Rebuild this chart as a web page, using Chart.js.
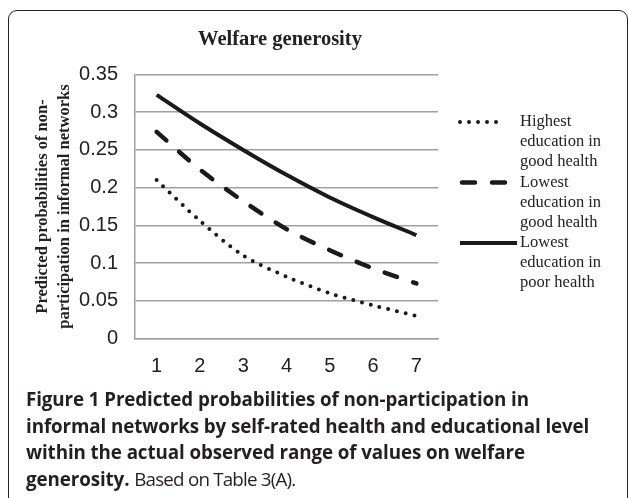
<!DOCTYPE html>
<html>
<head>
<meta charset="utf-8">
<script src="https://cdn.jsdelivr.net/npm/chart.js@4.4.1/dist/chart.umd.min.js"></script>
<style>
  html, body { margin: 0; padding: 0; background: #fff; }
  body { width: 629px; height: 498px; overflow: hidden; position: relative; }
  .frame {
    position: absolute; left: 8px; top: 10px; width: 620px; height: 600px;
    box-sizing: border-box; border: 1.5px solid #222; border-radius: 9px;
  }
  .chart-box { position: absolute; left: 0; top: 0; width: 629px; height: 400px; }
  .title {
    position: absolute; left: 0; top: 26px; width: 560px; text-align: center;
    font: bold 20.5px "Liberation Serif", "Times New Roman", serif; line-height: 24px; color: #222;
  }
  .caption {
    position: absolute; left: 26px; top: 386px; white-space: nowrap;
    font: bold 18.8px "Open Sans", Lato, sans-serif; line-height: 26.5px; color: #231f20;
    letter-spacing: -0.1px;
  }
  .caption span { font-weight: normal; letter-spacing: -0.8px; }
</style>
</head>
<body>
<div class="frame"></div>
<div class="chart-box"><canvas id="welfareChart" width="629" height="400"></canvas></div>
<div class="title">Welfare generosity</div>
<div class="caption">Figure 1 Predicted probabilities of non-participation in<br>informal networks by self-rated health and educational level<br>within the actual observed range of values on welfare<br>generosity. <span>Based on Table 3(A).</span></div>

<script>
// dati
const xLabels = ['1', '2', '3', '4', '5', '6', '7'];
const yTickLabels = ['0', '0.05', '0.1', '0.15', '0.2', '0.25', '0.3', '0.35'];
const highestGood = [0.210, 0.156, 0.110, 0.082, 0.060, 0.044, 0.030];
const lowestGood = [0.274, 0.224, 0.182, 0.145, 0.117, 0.093, 0.073];
const lowestPoor = [0.323, 0.285, 0.250, 0.217, 0.187, 0.161, 0.137];
const legendLines = [
    ['Highest', 'education in', 'good health'],
    ['Lowest', 'education in', 'good health'],
    ['Lowest', 'education in', 'poor health']
];
const yTitle = ['Predicted probabilities of non-', 'participation in informal networks'];

// legenda a destra, disegnata con lo stile di ogni serie
const sideLegend = {
    id: 'sideLegend',
    afterDraw(chart, args, opts) {
        const ctx = chart.ctx;
        chart.data.datasets.forEach((ds, i) => {
            const y = opts.top + i * opts.step;
            ctx.save();
            ctx.strokeStyle = ds.borderColor;
            ctx.lineWidth = ds.borderWidth;
            ctx.lineCap = ds.borderCapStyle || 'butt';
            ctx.setLineDash(ds.borderDash || []);
            ctx.beginPath();
            ctx.moveTo(opts.x0[i], y);
            ctx.lineTo(opts.x1[i], y);
            ctx.stroke();
            ctx.restore();

            ctx.save();
            ctx.fillStyle = '#222';
            ctx.font = opts.font;
            ctx.textBaseline = 'middle';
            legendLines[i].forEach((t, j) => ctx.fillText(t, opts.textX, y + j * opts.lineH));
            ctx.restore();
        });
    }
};

const ctx = document.getElementById('welfareChart').getContext('2d');
new Chart(ctx, {
    type: 'line',
    data: {
        labels: xLabels,
        datasets: [
            {
                label: 'Highest education in good health',
                data: highestGood,
                borderColor: '#1a1a1a',
                borderWidth: 4,
                borderDash: [0, 9],
                borderCapStyle: 'round',
                tension: 0.3,
                pointRadius: 0,
                fill: false
            },
            {
                label: 'Lowest education in good health',
                data: lowestGood,
                borderColor: '#1a1a1a',
                borderWidth: 4.5,
                borderDash: [13, 17],
                borderCapStyle: 'round',
                tension: 0.3,
                pointRadius: 0,
                fill: false
            },
            {
                label: 'Lowest education in poor health',
                data: lowestPoor,
                borderColor: '#1a1a1a',
                borderWidth: 4,
                tension: 0.3,
                pointRadius: 0,
                fill: false
            }
        ]
    },
    options: {
        responsive: false,
        animation: false,
        layout: { padding: { left: 32, right: 191, top: 74.5, bottom: 0 } },
        plugins: {
            legend: { display: false },
            tooltip: { enabled: false },
            sideLegend: {
                top: 122, step: 60.5, lineH: 20,
                x0: [460, 462, 460], x1: [500, 510, 517],
                textX: 520,
                font: '16.5px "Liberation Serif", "Times New Roman", serif'
            }
        },
        scales: {
            x: {
                offset: true,
                grid: { display: false, drawTicks: false },
                border: { display: true, color: '#a0a0a0', width: 1.5 },
                ticks: {
                    padding: 16,
                    color: '#222',
                    font: { family: '"Liberation Sans", Arial, sans-serif', size: 20 }
                },
                afterFit(scale) { scale.height = 400 - 338.5; }
            },
            y: {
                min: 0,
                max: 0.35,
                grid: { color: '#a0a0a0', lineWidth: 1.5, drawTicks: false },
                border: { display: true, color: '#a0a0a0', width: 1.5 },
                ticks: {
                    stepSize: 0.05,
                    padding: 17,
                    color: '#222',
                    font: { family: '"Liberation Sans", Arial, sans-serif', size: 20 },
                    callback: (v, i) => yTickLabels[i]
                },
                title: {
                    display: true,
                    text: yTitle,
                    color: '#222',
                    padding: 0,
                    font: { family: '"Liberation Serif", "Times New Roman", serif', size: 16.5, weight: 'bold', lineHeight: 22 / 16.5 }
                },
                afterFit(scale) { scale.width = 103; }
            }
        }
    },
    plugins: [sideLegend]
});
</script>
</body>
</html>
